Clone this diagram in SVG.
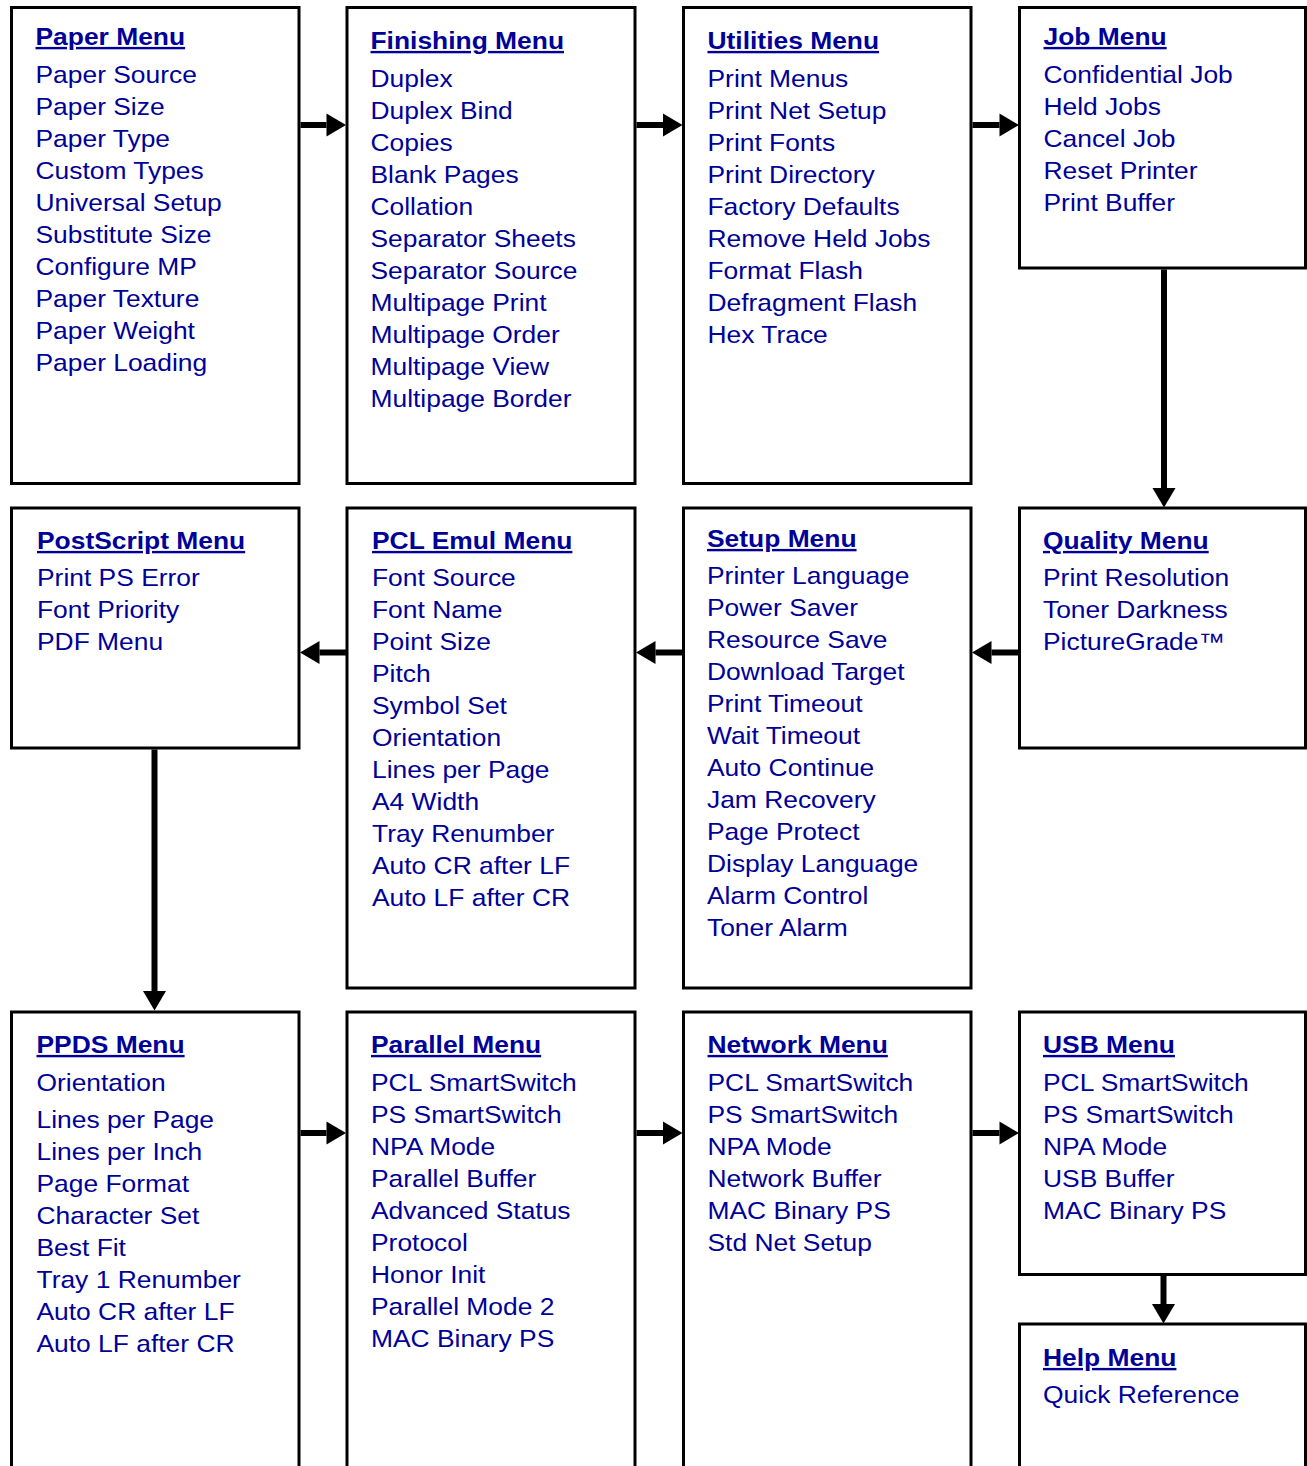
<svg xmlns="http://www.w3.org/2000/svg" width="1307" height="1466" viewBox="0 0 1307 1466">
<style>
text{font-family:"Liberation Sans",Arial,Helvetica,sans-serif;font-size:24px;fill:#000099}
.h{font-weight:bold;text-decoration:underline}
.box{fill:none;stroke:#000;stroke-width:3}
.c{stroke:#000;stroke-width:6;fill:none;marker-end:url(#ah)}
</style>
<defs>
<marker id="ah" markerUnits="userSpaceOnUse" markerWidth="20" markerHeight="24" refX="0" refY="11.5" orient="auto" overflow="visible"><path d="M0,0 L19.5,11.5 L0,23 z" fill="#000"/></marker>
</defs>
<rect width="1307" height="1466" fill="#fff"/>

<g id="paper-menu"><rect class="box" x="11.5" y="7.5" width="287.5" height="476"/>
<g transform="translate(35.5 0) scale(1.1 1)">
<text class="h" y="45">Paper Menu</text>
<text y="83">Paper Source</text><text y="115">Paper Size</text><text y="147">Paper Type</text><text y="179">Custom Types</text><text y="211">Universal Setup</text><text y="243">Substitute Size</text><text y="275">Configure MP</text><text y="307">Paper Texture</text><text y="339">Paper Weight</text><text y="371">Paper Loading</text>
</g></g>

<g id="finishing-menu"><rect class="box" x="347" y="7.5" width="288" height="476"/>
<g transform="translate(370.5 0) scale(1.1 1)">
<text class="h" y="49">Finishing Menu</text>
<text y="87">Duplex</text><text y="119">Duplex Bind</text><text y="151">Copies</text><text y="183">Blank Pages</text><text y="215">Collation</text><text y="247">Separator Sheets</text><text y="279">Separator Source</text><text y="311">Multipage Print</text><text y="343">Multipage Order</text><text y="375">Multipage View</text><text y="407">Multipage Border</text>
</g></g>

<g id="utilities-menu"><rect class="box" x="683.5" y="7.5" width="287.5" height="476"/>
<g transform="translate(707.5 0) scale(1.1 1)">
<text class="h" y="49">Utilities Menu</text>
<text y="87">Print Menus</text><text y="119">Print Net Setup</text><text y="151">Print Fonts</text><text y="183">Print Directory</text><text y="215">Factory Defaults</text><text y="247">Remove Held Jobs</text><text y="279">Format Flash</text><text y="311">Defragment Flash</text><text y="343">Hex Trace</text>
</g></g>

<g id="job-menu"><rect class="box" x="1019.5" y="7.5" width="286" height="260.5"/>
<g transform="translate(1043.5 0) scale(1.1 1)">
<text class="h" y="45">Job Menu</text>
<text y="83">Confidential Job</text><text y="115">Held Jobs</text><text y="147">Cancel Job</text><text y="179">Reset Printer</text><text y="211">Print Buffer</text>
</g></g>

<g id="postscript-menu"><rect class="box" x="11.5" y="508" width="287.5" height="240"/>
<g transform="translate(37 0) scale(1.1 1)">
<text class="h" y="549">PostScript Menu</text>
<text y="586">Print PS Error</text><text y="618">Font Priority</text><text y="650">PDF Menu</text>
</g></g>

<g id="pcl-emul-menu"><rect class="box" x="347" y="508" width="288" height="480"/>
<g transform="translate(372 0) scale(1.1 1)">
<text class="h" y="549">PCL Emul Menu</text>
<text y="586">Font Source</text><text y="618">Font Name</text><text y="650">Point Size</text><text y="682">Pitch</text><text y="714">Symbol Set</text><text y="746">Orientation</text><text y="778">Lines per Page</text><text y="810">A4 Width</text><text y="842">Tray Renumber</text><text y="874">Auto CR after LF</text><text y="906">Auto LF after CR</text>
</g></g>

<g id="setup-menu"><rect class="box" x="683.5" y="508" width="287.5" height="480"/>
<g transform="translate(707 0) scale(1.1 1)">
<text class="h" y="547">Setup Menu</text>
<text y="584">Printer Language</text><text y="616">Power Saver</text><text y="648">Resource Save</text><text y="680">Download Target</text><text y="712">Print Timeout</text><text y="744">Wait Timeout</text><text y="776">Auto Continue</text><text y="808">Jam Recovery</text><text y="840">Page Protect</text><text y="872">Display Language</text><text y="904">Alarm Control</text><text y="936">Toner Alarm</text>
</g></g>

<g id="quality-menu"><rect class="box" x="1019.5" y="508" width="286" height="240"/>
<g transform="translate(1043 0) scale(1.1 1)">
<text class="h" y="549">Quality Menu</text>
<text y="586">Print Resolution</text><text y="618">Toner Darkness</text><text y="650">PictureGrade™</text>
</g></g>

<g id="ppds-menu"><rect class="box" x="11.5" y="1012" width="287.5" height="470"/>
<g transform="translate(36.5 0) scale(1.1 1)">
<text class="h" y="1053">PPDS Menu</text>
<text y="1091">Orientation</text><text y="1128">Lines per Page</text><text y="1160">Lines per Inch</text><text y="1192">Page Format</text><text y="1224">Character Set</text><text y="1256">Best Fit</text><text y="1288">Tray 1 Renumber</text><text y="1320">Auto CR after LF</text><text y="1352">Auto LF after CR</text>
</g></g>

<g id="parallel-menu"><rect class="box" x="347" y="1012" width="288" height="470"/>
<g transform="translate(371 0) scale(1.1 1)">
<text class="h" y="1053">Parallel Menu</text>
<text y="1091">PCL SmartSwitch</text><text y="1123">PS SmartSwitch</text><text y="1155">NPA Mode</text><text y="1187">Parallel Buffer</text><text y="1219">Advanced Status</text><text y="1251">Protocol</text><text y="1283">Honor Init</text><text y="1315">Parallel Mode 2</text><text y="1347">MAC Binary PS</text>
</g></g>

<g id="network-menu"><rect class="box" x="683.5" y="1012" width="287.5" height="470"/>
<g transform="translate(707.5 0) scale(1.1 1)">
<text class="h" y="1053">Network Menu</text>
<text y="1091">PCL SmartSwitch</text><text y="1123">PS SmartSwitch</text><text y="1155">NPA Mode</text><text y="1187">Network Buffer</text><text y="1219">MAC Binary PS</text><text y="1251">Std Net Setup</text>
</g></g>

<g id="usb-menu"><rect class="box" x="1019.5" y="1012" width="286" height="262.5"/>
<g transform="translate(1043 0) scale(1.1 1)">
<text class="h" y="1053">USB Menu</text>
<text y="1091">PCL SmartSwitch</text><text y="1123">PS SmartSwitch</text><text y="1155">NPA Mode</text><text y="1187">USB Buffer</text><text y="1219">MAC Binary PS</text>
</g></g>

<g id="help-menu"><rect class="box" x="1019.5" y="1324" width="286" height="160"/>
<g transform="translate(1043 0) scale(1.1 1)">
<text class="h" y="1366">Help Menu</text>
<text y="1403">Quick Reference</text>
</g></g>

<g id="connectors">
<line class="c" x1="300.5" y1="125" x2="326.5" y2="125"/>
<line class="c" x1="636.5" y1="125" x2="663" y2="125"/>
<line class="c" x1="972.5" y1="125" x2="999.5" y2="125"/>
<line class="c" x1="1164" y1="269.5" x2="1164" y2="488"/>
<line class="c" x1="1018" y1="652.5" x2="991.5" y2="652.5"/>
<line class="c" x1="682" y1="652.5" x2="655.5" y2="652.5"/>
<line class="c" x1="346" y1="652.5" x2="319.5" y2="652.5"/>
<line class="c" x1="154.5" y1="749.5" x2="154.5" y2="991"/>
<line class="c" x1="300.5" y1="1133" x2="326.5" y2="1133"/>
<line class="c" x1="636.5" y1="1133" x2="663" y2="1133"/>
<line class="c" x1="972.5" y1="1133" x2="999.5" y2="1133"/>
<line class="c" x1="1163.5" y1="1276" x2="1163.5" y2="1304"/>
</g>
</svg>
